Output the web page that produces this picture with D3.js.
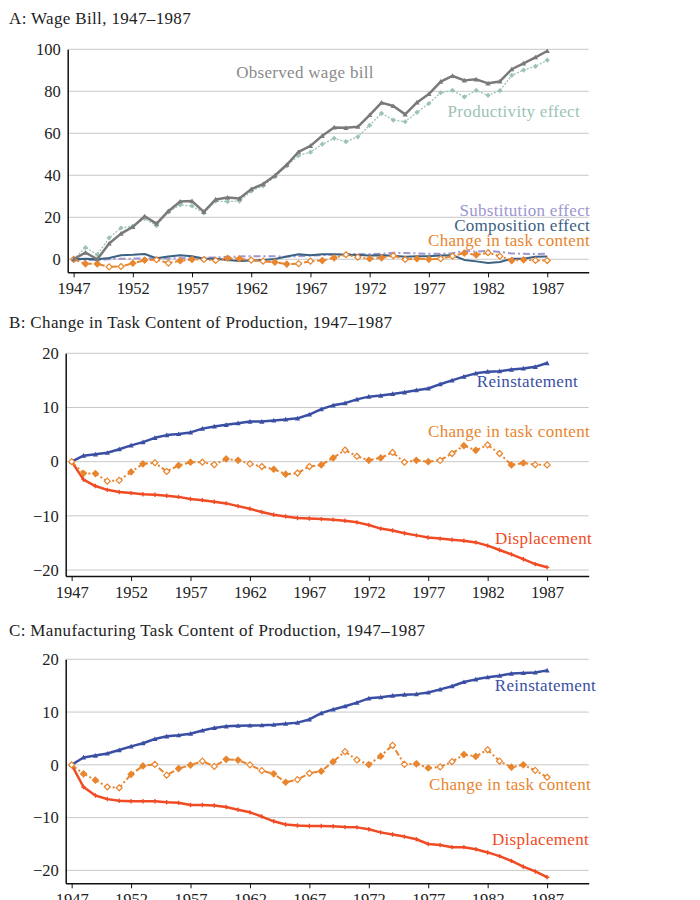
<!DOCTYPE html>
<html>
<head>
<meta charset="utf-8">
<script src="https://cdn.jsdelivr.net/npm/d3@7"></script>
<style>
  html, body { margin: 0; padding: 0; background: #fff; }
  svg { display: block; }
  text { font-family: "Liberation Serif", "Times New Roman", serif; }
</style>
</head>
<body>
<svg id="chart" width="700" height="900"></svg>
<script>
// ---------- DATA ----------
const years = [1947,1948,1949,1950,1951,1952,1953,1954,1955,1956,1957,1958,1959,1960,
  1961,1962,1963,1964,1965,1966,1967,1968,1969,1970,1971,1972,1973,1974,1975,1976,
  1977,1978,1979,1980,1981,1982,1983,1984,1985,1986,1987];
const xTicks = [1947,1952,1957,1962,1967,1972,1977,1982,1987];

// Panel A: Wage bill
const observedWageBill = [0,3.2,0,7.5,12.2,15.4,20.5,17,22.9,27.5,27.7,22.6,28.5,29.4,
  28.9,33.4,35.8,39.9,45,51.2,54,58.8,62.8,62.6,63.1,68.7,74.6,73,69,74.7,
  78.7,84.6,87.3,85.2,85.7,83.8,84.7,90.5,93.3,96.2,99.2];
const productivityEffect = [0,5.6,2.2,10.2,14.9,15.7,19.4,16,22.6,25.9,25.4,22.1,27.7,27.5,
  27.7,32.4,35,39.3,44.5,49.4,51,54.8,57.6,56,58.3,63.8,69.5,66.3,65.5,70,
  74.2,79.3,80.4,77.3,80.4,78.1,80.3,87.6,90.1,91.9,94.8];
const substitutionEffect = [0,-0.3,-0.3,0,0.2,0.3,0.5,0.6,0.4,0.5,0.7,0.8,0.9,1.1,
  1.3,1.5,1.5,1.4,1.2,1.5,1.8,2.0,2.2,2.5,2.5,2.4,2.6,3.1,3.0,2.8,
  2.6,2.6,2.9,4.0,3.6,4.1,3.5,2.8,2.6,2.5,2.6];
const compositionEffect = [0,0.3,0,0.6,1.9,2.1,2.5,0.5,1.3,1.9,1.4,0.3,0.2,-0.3,
  -0.8,-0.6,-0.3,0.1,1.3,2.4,1.9,2.4,2.4,2.2,2.0,1.8,1.9,1.7,1.2,1.4,
  1.5,1.8,1.9,-0.3,-1.0,-1.8,-1.3,0.2,0.3,1.2,1.3];

// Panel B: Change in task content of production
const reinstatementB = [0,1.1,1.35,1.65,2.3,3.0,3.6,4.4,4.9,5.1,5.4,6.1,6.5,6.8,
  7.1,7.4,7.4,7.6,7.8,8.0,8.7,9.7,10.4,10.8,11.5,12.0,12.2,12.5,12.8,13.2,
  13.5,14.3,15.0,15.7,16.3,16.6,16.7,17.0,17.2,17.5,18.2];
const displacementB = [0,-3.3,-4.5,-5.2,-5.6,-5.8,-6.0,-6.1,-6.3,-6.5,-6.9,-7.1,-7.4,-7.7,
  -8.2,-8.7,-9.3,-9.8,-10.1,-10.4,-10.5,-10.6,-10.7,-10.9,-11.2,-11.7,-12.35,-12.7,-13.2,-13.6,
  -14.0,-14.2,-14.4,-14.6,-14.9,-15.5,-16.3,-17.1,-18.0,-18.9,-19.5];
const taskContentB = [0,-2.15,-2.2,-3.6,-3.45,-1.9,-0.4,-0.2,-1.8,-0.7,-0.1,-0.1,-0.55,0.5,
  0.25,-0.4,-0.9,-1.4,-2.3,-2.1,-0.9,-0.6,0.7,2.15,1.0,0.25,0.7,1.7,-0.1,0.25,
  0,0.25,1.5,2.95,2.1,3.1,1.5,-0.6,-0.25,-0.55,-0.6];

// Panel C: Manufacturing task content of production
const reinstatementC = [0,1.4,1.75,2.15,2.8,3.5,4.1,4.9,5.4,5.6,5.9,6.5,7.0,7.3,
  7.4,7.45,7.5,7.6,7.8,8.0,8.6,9.8,10.5,11.1,11.8,12.6,12.8,13.1,13.3,13.4,
  13.7,14.3,14.9,15.7,16.2,16.6,16.9,17.3,17.4,17.5,17.9];
const displacementC = [0,-4.2,-5.8,-6.5,-6.8,-6.9,-6.9,-6.9,-7.1,-7.2,-7.6,-7.6,-7.7,-8.0,
  -8.5,-9.0,-9.8,-10.7,-11.3,-11.5,-11.6,-11.6,-11.65,-11.8,-11.85,-12.2,-12.8,-13.2,-13.6,-14.1,
  -15.0,-15.2,-15.6,-15.6,-16.0,-16.6,-17.3,-18.2,-19.3,-20.2,-21.3];
const taskContentC = [0,-1.7,-2.9,-4.2,-4.35,-1.8,-0.2,0.1,-1.95,-0.7,-0.05,0.7,-0.3,1.05,
  0.9,0,-1.1,-1.7,-3.3,-2.8,-1.6,-1.2,0.6,2.5,0.95,0.05,1.65,3.7,0.1,0.2,
  -0.6,-0.4,0.6,1.95,1.6,2.85,0.7,-0.45,0,-1.05,-2.35];

const yTicksA = [0,20,40,60,80,100];
const yTicksBC = [-20,-10,0,10,20];

// ---------- DRAWING ----------
const svg = d3.select("#chart");
const C = {
  gray: "#7a7a7a", teal: "#9cc3b5", lav: "#9d96cf", comp: "#3c6283",
  orange: "#e8852e", blue: "#3a4fa3", red: "#f04b24", grid: "#c9c9c9", ink: "#222"
};

function tri(g, x, y, s, col) {
  g.append("path").attr("d", `M${x},${y-s}L${x+s},${y+s*0.8}L${x-s},${y+s*0.8}Z`).attr("fill", col);
}

function panel(cfg) {
  const g = svg.append("g");
  const x = d3.scaleLinear().domain([1946.5, 1990.5]).range([cfg.left, 588.7]);
  const y = d3.scaleLinear().domain(cfg.yDomain).range([cfg.bottom, cfg.top]);

  g.append("text").attr("x", 9).attr("y", cfg.titleY).attr("font-size", 17)
    .attr("letter-spacing", 0.35).attr("fill", C.ink).text(cfg.title);

  // gridlines
  g.selectAll(".grid").data(cfg.yTicks).join("line")
    .attr("x1", cfg.left).attr("x2", 588.7)
    .attr("y1", d => y(d)).attr("y2", d => y(d))
    .attr("stroke", C.grid).attr("stroke-width", 1);

  // y axis
  const ya = g.append("g").attr("transform", `translate(${cfg.left},0)`)
    .call(d3.axisLeft(y).tickValues(cfg.yTicks).tickSize(0).tickPadding(7));
  ya.select(".domain").attr("stroke", "#111").attr("stroke-width", 1.5);
  ya.selectAll("text").attr("font-size", 16.5).attr("fill", C.ink)
    .attr("font-family", "Liberation Serif, serif");

  // x axis
  const xa = g.append("g").attr("transform", `translate(0,${cfg.bottom})`)
    .call(d3.axisBottom(x).tickValues(xTicks).tickFormat(d3.format("d")).tickSizeInner(5).tickSizeOuter(0).tickPadding(5));
  xa.select(".domain").attr("stroke", "#111").attr("stroke-width", 1.5);
  xa.selectAll(".tick line").attr("stroke", "#111");
  xa.selectAll("text").attr("font-size", 16.5).attr("fill", C.ink)
    .attr("font-family", "Liberation Serif, serif");

  const line = d3.line().x((d, i) => x(years[i])).y(d => y(d));

  cfg.series.forEach(s => {
    g.append("path").datum(s.values).attr("d", line)
      .attr("fill", "none").attr("stroke", s.color).attr("stroke-width", s.width)
      .attr("stroke-dasharray", s.dash || null).attr("stroke-linejoin", "round");
    const mg = g.append("g");
    s.values.forEach((v, i) => {
      const px = x(years[i]), py = y(v);
      if (s.marker === "tri") tri(mg, px, py, 2.6, s.color);
      else if (s.marker === "dia") {
        mg.append("path").attr("d", `M${px},${py-2.6}L${px+2.6},${py}L${px},${py+2.6}L${px-2.6},${py}Z`)
          .attr("fill", s.color);
      } else if (s.marker === "odia") {
        const open = (i % 4 === 0 || i % 4 === 3);
        mg.append("path").attr("d", `M${px},${py-3}L${px+3},${py}L${px},${py+3}L${px-3},${py}Z`)
          .attr("fill", open ? "#fff" : s.color).attr("stroke", s.color).attr("stroke-width", 1.2);
      } else if (s.marker === "plus") {
        mg.append("path").attr("d", `M${px-2.2},${py}L${px+2.2},${py}M${px},${py-2.2}L${px},${py+2.2}`)
          .attr("stroke", s.color).attr("stroke-width", 1.3);
      }
    });
  });

  cfg.labels.forEach(l => {
    g.append("text").attr("x", l.x).attr("y", l.y).attr("font-size", 17)
      .attr("letter-spacing", 0.3)
      .attr("text-anchor", l.anchor || "end").attr("fill", l.color).text(l.text);
  });
}

panel({
  title: "A: Wage Bill, 1947–1987", titleY: 24,
  left: 67.7, top: 49.3, bottom: 272.3, yDomain: [-6.2, 100], yTicks: yTicksA,
  series: [
    { values: productivityEffect, color: C.teal, width: 1.3, dash: "2,1.5", marker: "dia" },
    { values: substitutionEffect, color: C.lav, width: 2, dash: "7,3,2,3" },
    { values: compositionEffect, color: C.comp, width: 2 },
    { values: taskContentB, color: C.orange, width: 2, dash: "6,2.5,2,2.5", marker: "odia" },
    { values: observedWageBill, color: C.gray, width: 2.5, marker: "tri" }
  ],
  labels: [
    { text: "Observed wage bill", x: 305, y: 78, color: "#8a8a8a", anchor: "middle" },
    { text: "Productivity effect", x: 580, y: 117, color: C.teal },
    { text: "Substitution effect", x: 590, y: 216, color: C.lav },
    { text: "Composition effect", x: 590, y: 231, color: C.comp },
    { text: "Change in task content", x: 590, y: 245.5, color: C.orange }
  ]
});

panel({
  title: "B: Change in Task Content of Production, 1947–1987", titleY: 328,
  left: 65.7, top: 353.3, bottom: 576, yDomain: [-21.1, 20], yTicks: yTicksBC,
  series: [
    { values: reinstatementB, color: C.blue, width: 2.5, marker: "tri" },
    { values: displacementB, color: C.red, width: 2.5, marker: "plus" },
    { values: taskContentB, color: C.orange, width: 2, dash: "6,2.5,2,2.5", marker: "odia" }
  ],
  labels: [
    { text: "Reinstatement", x: 578, y: 387, color: C.blue },
    { text: "Change in task content", x: 590, y: 437, color: C.orange },
    { text: "Displacement", x: 592, y: 544, color: C.red }
  ]
});

panel({
  title: "C: Manufacturing Task Content of Production, 1947–1987", titleY: 636,
  left: 65.7, top: 659.3, bottom: 883.3, yDomain: [-22.45, 20], yTicks: yTicksBC,
  series: [
    { values: reinstatementC, color: C.blue, width: 2.5, marker: "tri" },
    { values: displacementC, color: C.red, width: 2.5, marker: "plus" },
    { values: taskContentC, color: C.orange, width: 2, dash: "6,2.5,2,2.5", marker: "odia" }
  ],
  labels: [
    { text: "Reinstatement", x: 596, y: 691, color: C.blue },
    { text: "Change in task content", x: 591, y: 790, color: C.orange },
    { text: "Displacement", x: 589, y: 845, color: C.red }
  ]
});
</script>
</body>
</html>
